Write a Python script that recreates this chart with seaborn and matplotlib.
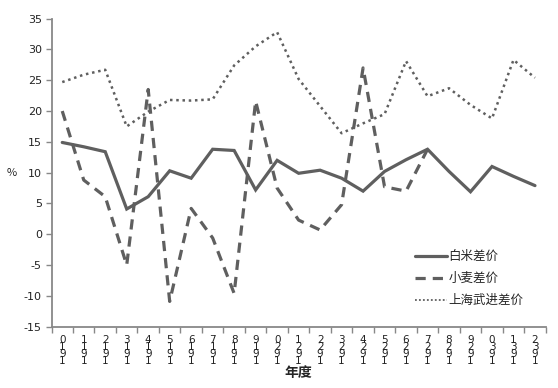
import numpy as np
import pandas as pd
import matplotlib
matplotlib.use("Agg")
import matplotlib.pyplot as plt
import seaborn as sns
from matplotlib.lines import Line2D

years = list(range(1910, 1933))
rice = [14.9, 14.2, 13.4, 4.1, 6.1, 10.3, 9.1, 13.8, 13.6, 7.2, 12.0, 9.9,
        10.4, 9.1, 7.0, 10.2, 12.1, 13.8, 10.2, 6.9, 11.0, 9.4, 7.9]
wheat = [20.0, 8.8, 6.1, -5.0, 23.5, -10.9, 4.2, -0.6, -9.6, 21.6, 7.5, 2.3,
         0.7, 4.8, 27.0, 7.7, 7.0, 13.8, np.nan, np.nan, np.nan, np.nan, np.nan]
shanghai = [24.7, 25.9, 26.7, 17.5, 19.9, 21.8, 21.7, 21.9, 27.4, 30.5, 32.8, 25.2,
            20.8, 16.4, 18.0, 19.5, 28.1, 22.4, 23.7, 21.0, 18.8, 28.3, 25.4]
series_names = ["白米差价", "小麦差价", "上海武进差价"]
yticks = list(range(-15, 40, 5))

sns.set_theme(style="white")
plt.rcParams['font.family'] = ['Noto Sans CJK SC', 'DejaVu Sans']

fig = plt.figure(figsize=(5.58, 3.88), dpi=100)
ax = fig.add_axes([0.0923, 0.158, 0.8857, 0.794])

x = np.arange(len(years))
col = "#5f5f5f"
df = pd.DataFrame({"x": x, "rice": rice, "wheat": wheat, "sh": shanghai})

sns.lineplot(data=df, x="x", y="rice", ax=ax, color=col, lw=2.3,
             solid_joinstyle="miter")
sns.lineplot(data=df.dropna(), x="x", y="wheat", ax=ax, color=col, lw=2.3,
             dashes=False, linestyle=(0, (3.2, 2.2)), dash_capstyle="butt")
sns.lineplot(data=df, x="x", y="sh", ax=ax, color=col, lw=1.8,
             dashes=False, linestyle=(0, (1, 1.5)), dash_capstyle="butt")

ax.set_xlim(-0.5, len(years) - 0.5)
ax.set_ylim(-15, 35)
ax.set_yticks(yticks)
ax.set_yticklabels([str(v) for v in yticks], fontsize=8, color="#222222",
                   family=['DejaVu Sans'])

ax.set_xticks(x)
labels = ["\n".join(reversed(str(y))) for y in years]
ax.set_xticklabels(labels, fontsize=7.5, linespacing=0.62, color="#222222",
                   family=['DejaVu Sans'])
ax.set_xticks(np.arange(-0.5, len(years), 1), minor=True)
ax.tick_params(axis="x", which="major", length=0, pad=6)
ax.tick_params(axis="x", which="minor", length=4, width=1, color="#888888",
               direction="out", bottom=True)
ax.tick_params(axis="y", length=4, width=1, color="#888888", direction="out",
               left=True, pad=3)

for s in ["top", "right"]:
    ax.spines[s].set_visible(False)
for s in ["left", "bottom"]:
    ax.spines[s].set_color("#888888")
    ax.spines[s].set_linewidth(1.3)

ax.set_xlabel("年度", fontsize=10, fontweight="bold", labelpad=0)
ax.set_ylabel("%", fontsize=8, rotation=0, va="center")
ax.yaxis.set_label_coords(-0.08, 0.5)

handles = [
    Line2D([], [], color=col, lw=2.3),
    Line2D([], [], color=col, lw=2.3, linestyle=(0, (3.2, 2.2))),
    Line2D([], [], color=col, lw=1.3, linestyle=(0, (1, 1.2))),
]
leg = ax.legend(handles, series_names, loc="upper left",
                bbox_to_anchor=(0.725, 0.265), frameon=False, fontsize=9,
                handlelength=2.6, handletextpad=0.1, labelspacing=0.72,
                borderaxespad=0)

fig.savefig("out.png", dpi=100)
